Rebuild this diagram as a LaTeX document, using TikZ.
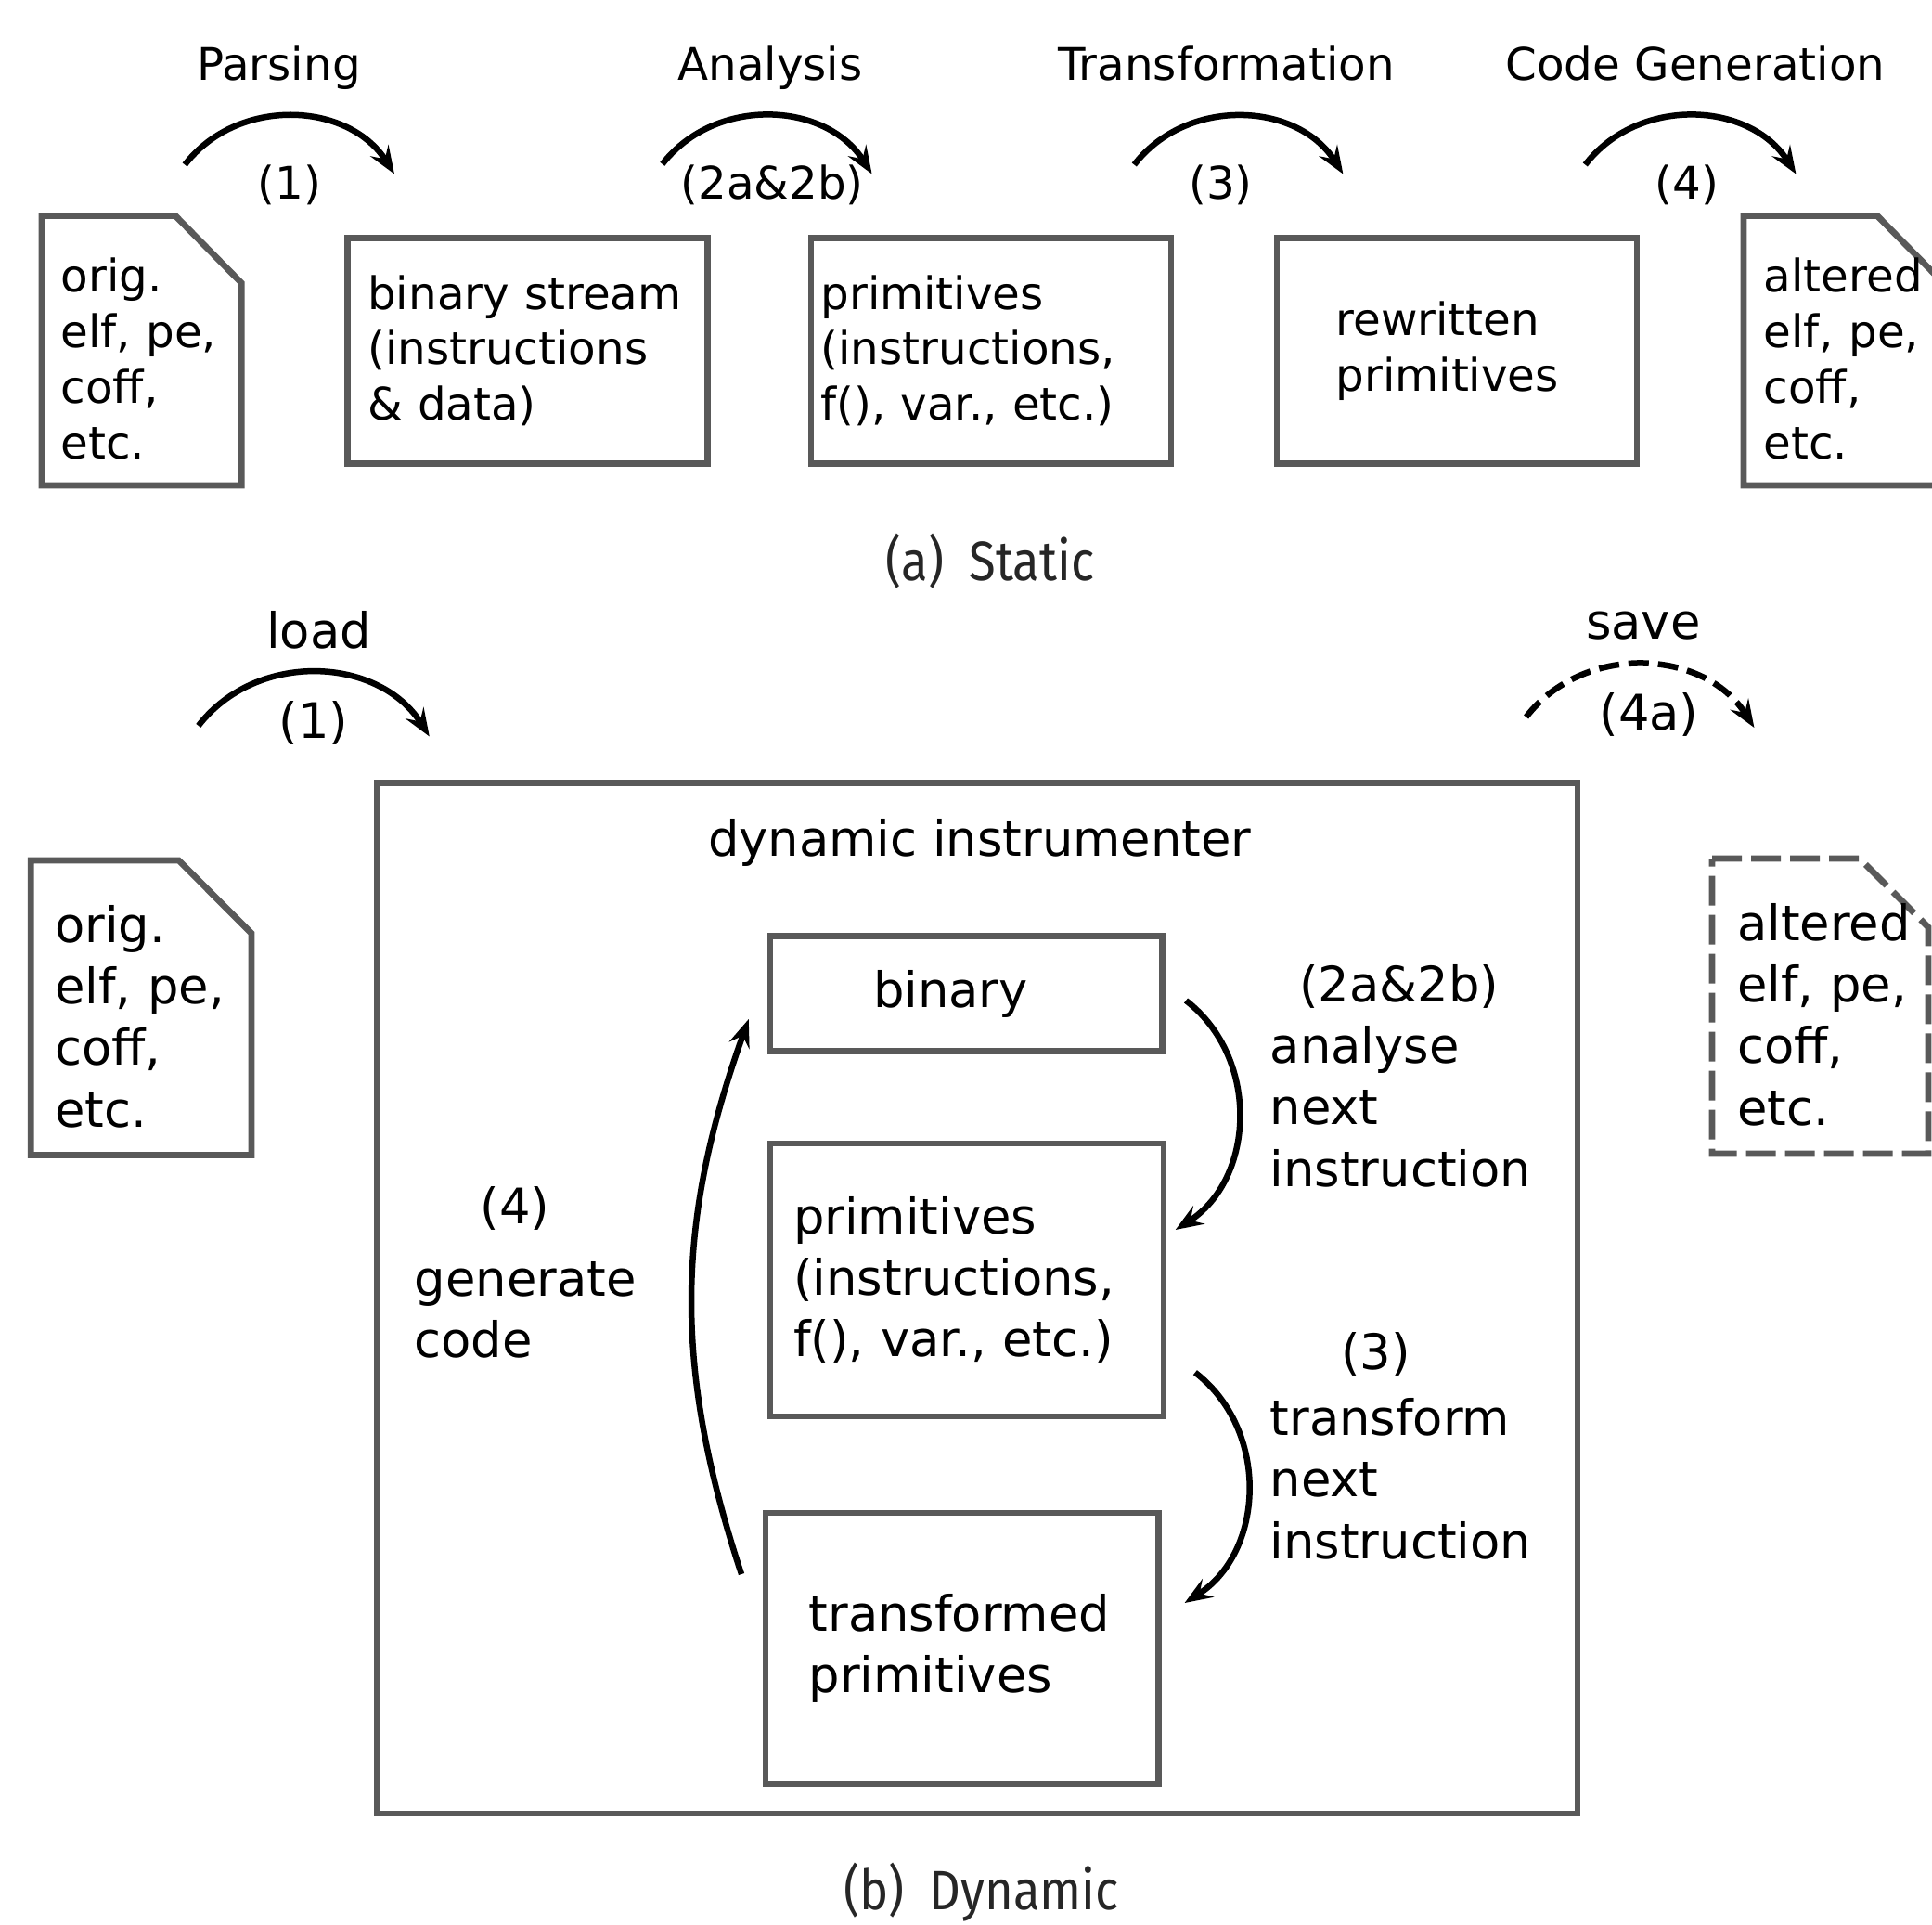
\documentclass[tikz,border=0pt]{standalone}
\usepackage{fontspec}
\setmainfont{DejaVu Sans}
\newfontfamily\capfont[FakeStretch=0.88]{Fira Sans}
\usepackage{tikz}
\usetikzlibrary{arrows.meta,positioning}
\definecolor{framegray}{RGB}{89,89,89}
\newcommand{\topsize}{\fontsize{13.75pt}{17pt}\selectfont}
\newcommand{\botsize}{\fontsize{15pt}{18.9pt}\selectfont}
\newcommand{\capsize}{\capfont\fontsize{17pt}{20pt}\selectfont}

\begin{document}
\begin{tikzpicture}[x=1mm, y=1mm,
		frame/.style={draw=framegray, line width=0.68mm},
		stagebox/.style={frame, align=left, inner sep=0pt},
		doctxt/.style={anchor=base west, align=left, inner sep=0pt, text width=22mm},
		lbl/.style={anchor=base, inner sep=0pt},
		flow/.style={-{Stealth[length=3mm, width=2.3mm, inset=1.1mm]}, line width=0.65mm, bend left=55, looseness=1.05}]
		\useasboundingbox (0,0) rectangle (208.2,-207.4);
		\clip (0,0) rectangle (208.2,-207.4);

		\draw[frame] (4.5,-23.25) -- (18.9,-23.25) -- (26.03,-30.5) -- (26.03,-52.3) -- (4.5,-52.3) -- cycle;
		\node[doctxt, font=\topsize] (origtop) at (6.5,-31.5) {orig.\\elf, pe,\\coff,\\etc.};
		\node[stagebox, font=\topsize, minimum width=38.8mm, minimum height=24.3mm, text width=34.4mm] (stream) at (56.83,-37.78) {binary stream\\(instructions\\\& data)};
		\node[stagebox, font=\topsize, minimum width=38.8mm, minimum height=24.3mm, text width=36.7mm] (primstop) at (106.8,-37.78) {primitives\\(instructions,\\f(), var., etc.)};
		\node[stagebox, font=\topsize, minimum width=38.8mm, minimum height=24.3mm, text width=26.1mm] (rewritten) at (157.0,-37.78) {rewritten\\primitives};
		\draw[frame] (187.9,-23.25) -- (202.3,-23.25) -- (209.43,-30.5) -- (209.43,-52.3) -- (187.9,-52.3) -- cycle;
		\node[doctxt, font=\topsize] (alteredtop) at (190.0,-31.5) {altered\\elf, pe,\\coff,\\etc.};

		\node[lbl, font=\topsize] (parsing) at (30.05,-8.68) {Parsing};
		\node[lbl, font=\topsize] (analysis) at (83.0,-8.68) {Analysis};
		\node[lbl, font=\topsize] (transformation) at (132.15,-8.68) {Transformation};
		\node[lbl, font=\topsize] (codegen) at (182.7,-8.68) {Code Generation};
		\node[lbl, font=\topsize] (num1) at (31.2,-21.45) {(1)};
		\node[lbl, font=\topsize] (num2) at (83.2,-21.45) {(2a\&2b)};
		\node[lbl, font=\topsize] (num3) at (131.56,-21.45) {(3)};
		\node[lbl, font=\topsize] (num4) at (181.8,-21.45) {(4)};

		\coordinate (parse-s) at (19.92,-17.75);
		\coordinate (parse-e) at (42.5,-18.75);
		\coordinate (analyse-s) at (71.38,-17.68);
		\coordinate (analyse-e) at (93.96,-18.75);
		\coordinate (transform-s) at (122.23,-17.75);
		\coordinate (transform-e) at (144.74,-18.75);
		\coordinate (generate-s) at (170.83,-17.75);
		\coordinate (generate-e) at (193.54,-18.75);
		\draw[flow] (parse-s) to (parse-e);
		\draw[flow] (analyse-s) to (analyse-e);
		\draw[flow] (transform-s) to (transform-e);
		\draw[flow] (generate-s) to (generate-e);

		\node[lbl, text=black!85] (capstatic) at (106.7,-62.5) {\capsize (a)\hspace{0.45em}Static};

		\draw[frame] (3.32,-92.7) -- (19.26,-92.7) -- (27.1,-100.55) -- (27.1,-124.44) -- (3.32,-124.44) -- cycle;
		\node[doctxt, font=\botsize] (origbot) at (5.85,-101.5) {orig.\\elf, pe,\\coff,\\etc.};
		\draw[frame, dash pattern=on 3.2mm off 1mm] (184.5,-92.5) -- (200.4,-92.5) -- (207.8,-99.9) -- (207.8,-124.3) -- (184.5,-124.3) -- cycle;
		\node[doctxt, font=\botsize] (alteredbot) at (187.15,-101.3) {altered\\elf, pe,\\coff,\\etc.};

		\node[frame, minimum width=129.36mm, minimum height=111.05mm] (instr) at (105.32,-139.88) {};
		\node[lbl, font=\botsize] (instrtitle) at (105.57,-92.2) {dynamic instrumenter};
		\node[stagebox, font=\botsize, minimum width=42.22mm, minimum height=12.41mm, text width=20mm] (binary) at (104.11,-107.08) {binary};
		\node[stagebox, font=\botsize, minimum width=42.4mm, minimum height=29.4mm, text width=37.4mm] (primsbot) at (104.2,-137.9) {primitives\\(instructions,\\f(), var., etc.)};
		\node[stagebox, font=\botsize, minimum width=42.36mm, minimum height=29.2mm, text width=33mm] (transformed) at (103.68,-177.6) {transformed\\primitives};

		\node[lbl, font=\botsize] (loadlbl) at (34.35,-69.84) {load};
		\node[lbl, font=\botsize] (loadnum) at (33.8,-79.5) {(1)};
		\node[lbl, font=\botsize] (savelbl) at (177.08,-68.85) {save};
		\node[lbl, font=\botsize] (savenum) at (177.7,-78.6) {(4a)};
		\coordinate (load-s) at (21.38,-78.19);
		\coordinate (load-e) at (46.28,-79.35);
		\coordinate (save-s) at (164.46,-77.25);
		\coordinate (save-e) at (189.04,-78.4);
		\draw[flow] (load-s) to (load-e);
		\draw[flow, dash pattern=on 2.2mm off 1mm] (save-s) to (save-e);

		\node[doctxt, font=\botsize, text width=40mm] (analysetxt) at (136.8,-107.9) {\hspace*{0.6em}(2a\&2b)\\analyse\\next\\instruction};
		\node[doctxt, font=\botsize, text width=40mm] (transformtxt) at (136.8,-147.5) {\hspace*{1.45em}(3)\\[0.5mm]transform\\next\\instruction};
		\node[doctxt, font=\botsize, text width=30mm] (generatetxt) at (44.6,-131.8) {\hspace*{1.35em}(4)\\[1.2mm]generate\\code};
		\coordinate (next-s) at (127.8,-107.8);
		\coordinate (next-e) at (126.67,-132.5);
		\coordinate (rewrite-s) at (128.79,-147.87);
		\coordinate (rewrite-e) at (127.66,-172.7);
		\coordinate (emit-s) at (79.9,-169.6);
		\coordinate (emit-e) at (80.68,-109.8);
		\draw[flow] (next-s) to (next-e);
		\draw[flow] (rewrite-s) to (rewrite-e);
		\draw[flow, bend left=19, looseness=1] (emit-s) to (emit-e);

		\node[lbl, text=black!85] (capdynamic) at (105.75,-205.7) {\capsize (b)\hspace{0.45em}Dynamic};
	\end{tikzpicture}
\end{document}
